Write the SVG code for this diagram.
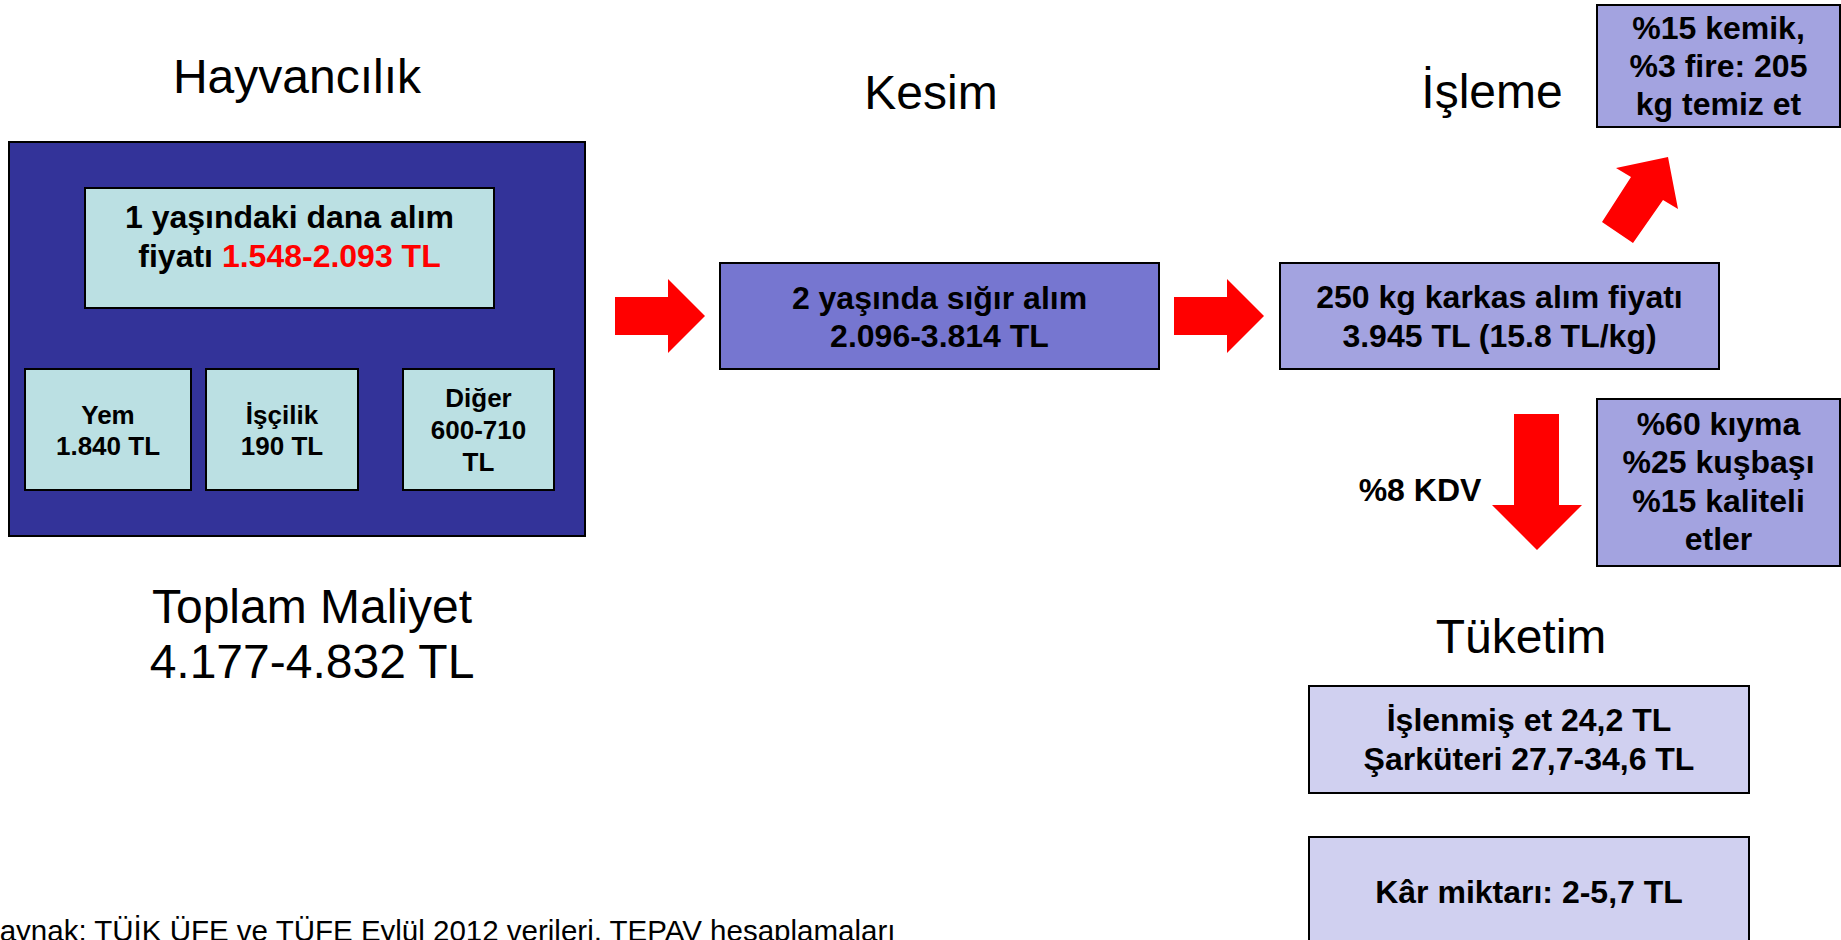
<svg xmlns="http://www.w3.org/2000/svg" width="1841" height="940" viewBox="0 0 1841 940">
<style>
.title{font-family:"Liberation Sans",Arial,sans-serif;font-size:48px;fill:#000;text-anchor:middle}
.b{font-family:"Liberation Sans",Arial,sans-serif;font-weight:bold;font-size:32px;fill:#000;text-anchor:middle}
.s{font-family:"Liberation Sans",Arial,sans-serif;font-weight:bold;font-size:26px;fill:#000;text-anchor:middle}
.box{stroke:#000;stroke-width:2}
.cyan{fill:#BBE0E3}
.arrow{fill:#FF0000;stroke:none}
.foot{font-family:"Liberation Sans",Arial,sans-serif;font-size:29.5px;fill:#000}
</style>
<rect width="1841" height="940" fill="#fff"/>

<g id="titles">
<text class="title" x="297" y="93">Hayvancılık</text>
<text class="title" x="931" y="109">Kesim</text>
<text class="title" x="1492" y="108">İşleme</text>
<text class="title" x="312" y="623">Toplam Maliyet</text>
<text class="title" x="312" y="678">4.177-4.832 TL</text>
<text class="title" x="1521" y="653">Tüketim</text>
</g>

<g id="hayvancilik">
<rect class="box" x="9" y="142" width="576" height="394" fill="#333399"/>
</g>
<g id="dana">
<rect class="box cyan" x="85" y="188" width="409" height="120"/>
<text class="b" x="289.5" y="228">1 yaşındaki dana alım</text>
<text class="b" x="289.5" y="267">fiyatı <tspan fill="#FF0000">1.548-2.093 TL</tspan></text>
</g>
<g id="yem">
<rect class="box cyan" x="25" y="369" width="166" height="121"/>
<text class="s" x="108" y="424">Yem</text>
<text class="s" x="108" y="455">1.840 TL</text>
</g>
<g id="iscilik">
<rect class="box cyan" x="206" y="369" width="152" height="121"/>
<text class="s" x="282" y="424">İşçilik</text>
<text class="s" x="282" y="455">190 TL</text>
</g>
<g id="diger">
<rect class="box cyan" x="403" y="369" width="151" height="121"/>
<text class="s" x="478.5" y="407">Diğer</text>
<text class="s" x="478.5" y="439">600-710</text>
<text class="s" x="478.5" y="471">TL</text>
</g>

<g id="kesim">
<rect class="box" x="720" y="263" width="439" height="106" fill="#7676D0"/>
<text class="b" x="939.5" y="309">2 yaşında sığır alım</text>
<text class="b" x="939.5" y="347">2.096-3.814 TL</text>
</g>

<g id="karkas">
<rect class="box" x="1280" y="263" width="439" height="106" fill="#A3A3E0"/>
<text class="b" x="1499.5" y="308">250 kg karkas alım fiyatı</text>
<text class="b" x="1499.5" y="347">3.945 TL (15.8 TL/kg)</text>
</g>

<g id="kemik">
<rect class="box" x="1597" y="5" width="243" height="122" fill="#A3A3E0"/>
<text class="b" x="1718.5" y="39">%15 kemik,</text>
<text class="b" x="1718.5" y="77">%3 fire: 205</text>
<text class="b" x="1718.5" y="115">kg temiz et</text>
</g>

<g id="kiyma">
<rect class="box" x="1597" y="399" width="243" height="167" fill="#A3A3E0"/>
<text class="b" x="1718.5" y="435">%60 kıyma</text>
<text class="b" x="1718.5" y="473">%25 kuşbaşı</text>
<text class="b" x="1718.5" y="512">%15 kaliteli</text>
<text class="b" x="1718.5" y="550">etler</text>
</g>

<g id="kdv">
<text class="b" x="1420" y="501">%8 KDV</text>
</g>

<g id="islenmis">
<rect class="box" x="1309" y="686" width="440" height="107" fill="#D0D0F0"/>
<text class="b" x="1529" y="731">İşlenmiş et 24,2 TL</text>
<text class="b" x="1529" y="770">Şarküteri 27,7-34,6 TL</text>
</g>

<g id="kar">
<rect class="box" x="1309" y="837" width="440" height="130" fill="#D0D0F0"/>
<text class="b" x="1529" y="903">Kâr miktarı: 2-5,7 TL</text>
</g>

<g id="connectors">
<polygon class="arrow" points="615,297 668,297 668,279 705,316 668,353 668,335 615,335"/>
<polygon class="arrow" points="1174,297 1227,297 1227,279 1264,316 1227,353 1227,335 1174,335"/>
<polygon class="arrow" points="1602,222 1631,177 1616,168 1668,157 1678,209 1663,200 1633,243"/>
<polygon class="arrow" points="1514,414 1559,414 1559,505 1582,505 1537,550 1492,505 1514,505"/>
</g>

<g id="footer">
<text class="foot" x="-20" y="941">Kaynak: TÜİK ÜFE ve TÜFE Eylül 2012 verileri, TEPAV hesaplamaları</text>
</g>
</svg>
